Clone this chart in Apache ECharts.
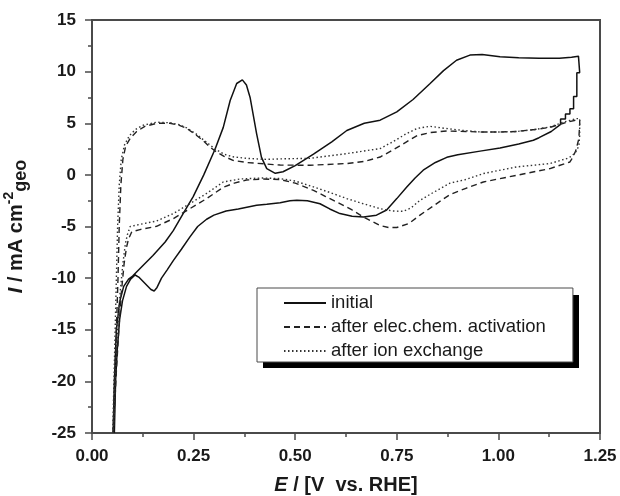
<!DOCTYPE html>
<html>
<head>
<meta charset="utf-8">
<script src="https://cdn.jsdelivr.net/npm/echarts@6/dist/echarts.min.js"></script>
<style>
  html, body { margin: 0; padding: 0; background: #fff; }
  #chart { width: 620px; height: 496px; }
</style>
</head>
<body>
<div id="chart"></div>
<script>
// legend names
var seriesNames = ['initial', 'after elec.chem. activation', 'after ion exchange'];

// axis ticks
var xTicks = [0.00, 0.25, 0.50, 0.75, 1.00, 1.25];
var yTicks = [-25, -20, -15, -10, -5, 0, 5, 10, 15];

// [E (V vs RHE), I (mA cm-2)] along the sweep
var initial = [
  [0.052,-25],[0.055,-20],[0.060,-15],[0.068,-12.3],[0.078,-10.8],[0.090,-10.1],[0.100,-9.8],
  [0.120,-9.0],[0.150,-7.8],[0.180,-6.5],[0.200,-5.4],[0.225,-3.7],[0.249,-2.1],[0.275,0.0],
  [0.303,2.5],[0.323,4.6],[0.340,7.2],[0.356,8.85],[0.370,9.2],[0.380,8.7],[0.389,7.5],
  [0.405,4.0],[0.417,1.7],[0.430,0.6],[0.451,0.15],[0.470,0.3],[0.500,0.9],[0.545,2.0],
  [0.590,3.2],[0.627,4.3],[0.670,5.0],[0.709,5.3],[0.750,6.1],[0.790,7.3],[0.832,8.85],
  [0.865,10.1],[0.897,11.1],[0.930,11.6],[0.960,11.65],[1.004,11.45],[1.050,11.35],
  [1.100,11.3],[1.150,11.3],[1.180,11.4],[1.197,11.5],
  [1.200,11.5],[1.200,9.9],[1.193,9.9],[1.193,7.6],[1.185,7.6],[1.185,6.4],[1.176,6.4],
  [1.176,5.9],[1.165,5.9],[1.165,5.4],[1.153,5.4],[1.153,4.9],
  [1.130,4.2],[1.100,3.6],[1.086,3.35],[1.050,3.0],[1.004,2.6],[0.955,2.3],[0.900,1.95],
  [0.873,1.7],[0.845,1.2],[0.815,0.45],[0.795,-0.3],[0.774,-1.2],[0.750,-2.3],[0.725,-3.4],
  [0.700,-3.9],[0.668,-4.08],[0.640,-4.0],[0.610,-3.75],[0.585,-3.3],[0.561,-2.8],[0.530,-2.5],
  [0.504,-2.46],[0.487,-2.5],[0.463,-2.7],[0.430,-2.85],[0.405,-2.95],[0.360,-3.3],[0.330,-3.5],
  [0.300,-3.9],[0.282,-4.3],[0.260,-5.0],[0.241,-6.0],[0.220,-7.2],[0.200,-8.3],[0.185,-9.2],
  [0.171,-10.0],[0.160,-10.9],[0.153,-11.25],[0.145,-11.1],[0.130,-10.5],[0.115,-9.9],
  [0.106,-9.7],[0.095,-10.1],[0.085,-10.8],[0.075,-12.2],[0.068,-14],[0.062,-17],[0.058,-20],
  [0.055,-25]
];

var afterActivation = [
  [0.052,-25],[0.056,-20],[0.060,-15],[0.064,-10],[0.067,-5],[0.071,-1],[0.076,1.5],[0.083,2.8],
  [0.095,3.6],[0.110,4.2],[0.130,4.7],[0.160,5.0],[0.192,5.0],[0.215,4.8],[0.233,4.5],[0.255,3.9],
  [0.274,3.3],[0.290,2.7],[0.307,2.2],[0.325,1.8],[0.347,1.4],[0.380,1.2],[0.429,1.05],[0.463,0.95],
  [0.536,0.93],[0.627,1.1],[0.670,1.3],[0.709,1.73],[0.740,2.4],[0.774,3.2],[0.800,3.8],[0.832,4.1],
  [0.873,4.25],[0.920,4.2],[0.960,4.15],[1.000,4.15],[1.045,4.2],[1.090,4.4],[1.127,4.6],
  [1.160,5.0],[1.190,5.3],[1.200,5.3],
  [1.200,5.0],[1.198,3.5],[1.190,2.3],[1.180,1.5],[1.176,1.25],[1.127,0.61],[1.045,-0.04],
  [0.963,-0.69],[0.920,-1.3],[0.881,-1.9],[0.840,-3.0],[0.807,-3.9],[0.780,-4.7],[0.750,-5.1],
  [0.730,-5.1],[0.709,-4.9],[0.668,-4.08],[0.640,-3.4],[0.610,-2.78],[0.575,-2.1],[0.545,-1.5],
  [0.500,-0.8],[0.463,-0.45],[0.420,-0.4],[0.380,-0.5],[0.350,-0.8],[0.323,-1.2],[0.282,-2.3],
  [0.241,-3.27],[0.200,-4.24],[0.159,-4.98],[0.118,-5.3],[0.098,-5.5],[0.090,-6.2],[0.085,-7.0],
  [0.079,-8.6],[0.072,-11.5],[0.066,-15],[0.060,-19],[0.055,-23],[0.053,-25]
];

var afterIonExchange = [
  [0.051,-25],[0.054,-20],[0.057,-15],[0.060,-10],[0.063,-5],[0.067,-1],[0.072,1.5],[0.080,2.9],
  [0.092,3.8],[0.107,4.4],[0.125,4.8],[0.159,5.1],[0.192,5.05],[0.215,4.85],[0.233,4.55],
  [0.255,4.0],[0.274,3.4],[0.290,2.9],[0.307,2.4],[0.325,2.0],[0.347,1.75],[0.380,1.6],
  [0.429,1.5],[0.463,1.55],[0.536,1.6],[0.627,2.06],[0.709,2.55],[0.740,3.2],[0.774,4.0],
  [0.800,4.5],[0.832,4.7],[0.870,4.5],[0.914,4.3],[0.955,4.16],[1.000,4.15],[1.045,4.2],
  [1.090,4.4],[1.127,4.64],[1.160,5.1],[1.192,5.45],[1.200,5.45],
  [1.200,3.8],[1.198,2.8],[1.190,2.2],[1.180,1.8],[1.168,1.58],[1.127,1.1],[1.045,0.77],
  [0.963,0.13],[0.920,-0.45],[0.881,-0.8],[0.840,-1.7],[0.807,-2.46],[0.785,-3.2],[0.766,-3.53],
  [0.740,-3.5],[0.709,-3.27],[0.668,-2.8],[0.627,-2.3],[0.585,-1.7],[0.545,-1.17],[0.500,-0.6],
  [0.463,-0.36],[0.420,-0.3],[0.364,-0.4],[0.323,-0.69],[0.282,-1.8],[0.241,-2.78],[0.200,-3.75],
  [0.159,-4.47],[0.118,-4.79],[0.094,-5.0],[0.087,-5.8],[0.082,-6.7],[0.076,-8.6],[0.069,-11.5],
  [0.063,-15],[0.058,-19],[0.054,-23],[0.052,-25]
];

var chart = echarts.init(document.getElementById('chart'));
var font = '"Liberation Sans", Arial, sans-serif';
var axisColor = '#4a4a4a';
var textColor = '#1a1a1a';

var option = {
  animation: false,
  backgroundColor: '#fff',
  grid: {
    left: 92, top: 20, right: 20, bottom: 63,
    outerBoundsMode: 'none',
    containLabel: false,
    show: true, borderColor: axisColor, borderWidth: 2, backgroundColor: 'transparent'
  },
  // black drop shadow behind the legend box
  graphic: [{
    type: 'rect', z: 3,
    shape: { x: 263, y: 295, width: 316, height: 73 },
    style: { fill: '#000' }
  }],
  legend: {
    data: seriesNames,
    orient: 'vertical',
    left: 257, top: 288, z: 4,
    padding: [5, 27, 1, 26],
    itemGap: 4,
    itemWidth: 42,
    itemHeight: 14,
    backgroundColor: '#fff',
    borderColor: axisColor,
    borderWidth: 1,
    itemStyle: { opacity: 0 },
    textStyle: { fontFamily: font, fontSize: 18.5, lineHeight: 20, color: textColor }
  },
  xAxis: {
    type: 'value',
    min: 0, max: 1.25, interval: 0.25,
    name: '{i|E}{n| / [V  vs. RHE]}',
    nameLocation: 'middle',
    nameGap: 39,
    nameTextStyle: {
      rich: {
        i: { fontFamily: font, fontSize: 20, fontWeight: 'bold', fontStyle: 'italic', color: textColor, lineHeight: 26 },
        n: { fontFamily: font, fontSize: 20, fontWeight: 'bold', color: textColor, lineHeight: 26 }
      }
    },
    axisLine: { onZero: false, lineStyle: { color: axisColor, width: 2 } },
    axisTick: { inside: false, length: 7, lineStyle: { color: axisColor, width: 1.5 } },
    minorTick: { show: true, splitNumber: 2, length: 4, lineStyle: { color: axisColor, width: 1.5 } },
    splitLine: { show: false },
    axisLabel: {
      margin: 15,
      fontFamily: font, fontSize: 17, fontWeight: 'bold', color: textColor,
      formatter: function (v) { return v.toFixed(2); }
    }
  },
  yAxis: {
    type: 'value',
    min: -25, max: 15, interval: 5,
    name: '{i|I}{n| / mA cm}{sup|-2}{sub|geo}',
    nameLocation: 'middle',
    nameRotate: 90,
    nameGap: 62,
    nameTextStyle: {
      rich: {
        i: { fontFamily: font, fontSize: 20, fontWeight: 'bold', fontStyle: 'italic', color: textColor, lineHeight: 28 },
        n: { fontFamily: font, fontSize: 20, fontWeight: 'bold', color: textColor, lineHeight: 28 },
        sup: { fontFamily: font, fontSize: 14, fontWeight: 'bold', color: textColor, lineHeight: 14, verticalAlign: 'top' },
        sub: { fontFamily: font, fontSize: 18, fontWeight: 'bold', color: textColor, lineHeight: 18, verticalAlign: 'bottom' }
      }
    },
    axisLine: { onZero: false, lineStyle: { color: axisColor, width: 2 } },
    axisTick: { inside: false, length: 7, lineStyle: { color: axisColor, width: 1.5 } },
    minorTick: { show: true, splitNumber: 2, length: 4, lineStyle: { color: axisColor, width: 1.5 } },
    splitLine: { show: false },
    axisLabel: {
      margin: 16,
      fontFamily: font, fontSize: 17, fontWeight: 'bold', color: textColor
    }
  },
  series: [
    {
      name: seriesNames[0], type: 'line', data: initial,
      symbol: 'none', smooth: false,
      lineStyle: { color: '#111', width: 1.5, type: 'solid' },
      itemStyle: { color: '#111' }
    },
    {
      name: seriesNames[1], type: 'line', data: afterActivation,
      symbol: 'none', smooth: false,
      lineStyle: { color: '#222', width: 1.4, type: [6, 4] },
      itemStyle: { color: '#222' }
    },
    {
      name: seriesNames[2], type: 'line', data: afterIonExchange,
      symbol: 'none', smooth: false,
      lineStyle: { color: '#333', width: 1.4, type: [1.5, 2.5] },
      itemStyle: { color: '#333' }
    }
  ]
};

chart.setOption(option);
</script>
</body>
</html>
